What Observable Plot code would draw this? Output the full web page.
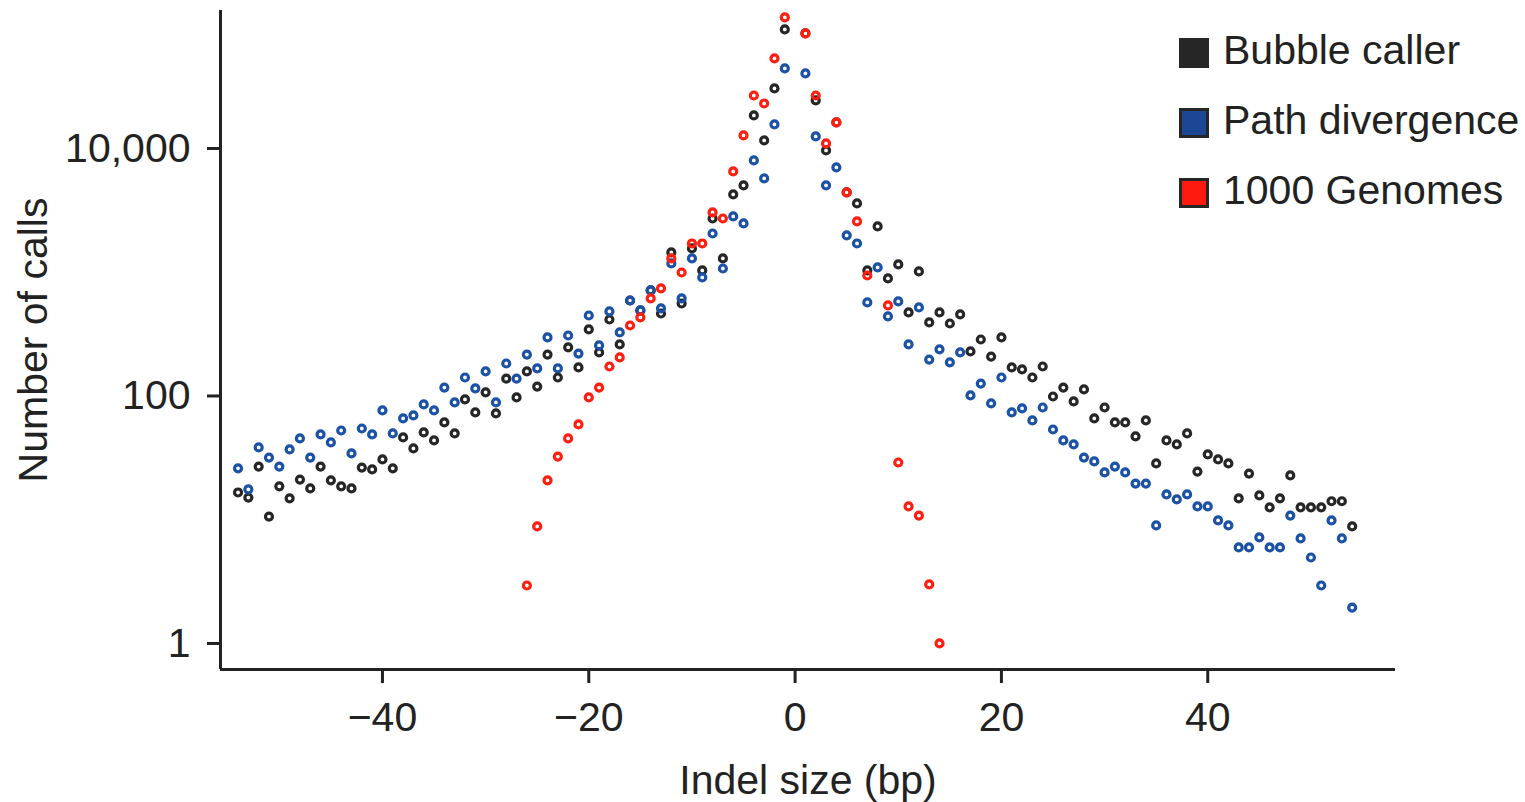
<!DOCTYPE html>
<html>
<head>
<meta charset="utf-8">
<script src="https://cdn.jsdelivr.net/npm/d3@7"></script>
<script src="https://cdn.jsdelivr.net/npm/@observablehq/plot@0.6"></script>
<style>
  body { margin: 0; background: #fff; }
  #wrap { position: relative; width: 1525px; height: 802px; overflow: hidden; }
  .lg-row { position: absolute; left: 1179px; height: 40px; font: 41px "Liberation Sans", Arial, sans-serif; color: #222; white-space: nowrap; }
  .lg-sw { position: absolute; left: 0; top: 8px; width: 30px; height: 30px; box-sizing: border-box; border: 3px solid #262626; }
  .lg-tx { position: absolute; left: 44px; top: 0; line-height: 40px; }
</style>
</head>
<body>
<div id="wrap"></div>
<script>
// ---- data ----
const sizes = [-54,-53,-52,-51,-50,-49,-48,-47,-46,-45,-44,-43,-42,-41,-40,-39,-38,-37,-36,-35,
  -34,-33,-32,-31,-30,-29,-28,-27,-26,-25,-24,-23,-22,-21,-20,-19,-18,-17,-16,-15,
  -14,-13,-12,-11,-10,-9,-8,-7,-6,-5,-4,-3,-2,-1,
  1,2,3,4,5,6,7,8,9,10,11,12,13,14,15,16,17,18,19,20,21,22,23,24,25,26,27,28,29,30,
  31,32,33,34,35,36,37,38,39,40,41,42,43,44,45,46,47,48,49,50,51,52,53,54];

const bubbleCalls = [16.6,15.1,26.9,10.6,18.6,14.9,21.1,17.9,26.9,20.8,18.6,17.9,26.4,25.5,30.7,26.0,46.2,37.7,50.7,43.7,
  61.1,49.8,93.7,73.6,107,72.2,138,97.3,158,119,216,141,247,170,345,225,415,261,591,491,
  712,464,1445,559,1556,1033,2718,1292,4250,5024,18490,11610,30550,91600,
  85000,24430,9640,16230,4413,3595,1033,2344,891,1155,473,1014,393,473,385,456,229,286,208,297,
  170,164,141,173,99,117,90.3,113,65.8,80.7,61.1,61.1,47.1,63.4,28.5,43.7,40.6,49.8,24.5,33.7,
  30.7,28.5,14.9,23.6,15.7,12.6,14.9,22.8,12.6,12.6,12.6,14.1,14.1,8.82];

const pathCalls = [26.0,17.6,38.4,31.8,26.9,37.0,45.4,31.8,48.9,42.1,52.6,34.3,54.6,48.9,76.4,49.8,65.8,69.6,85.4,76.4,
  117,88.7,141,115,158,88.7,183,138,216,167,297,167,308,220,447,256,482,326,591,491,
  712,510,1177,614,1292,907,2056,1072,2823,2477,8000,5724,15640,44340,
  40390,12510,5024,7025,1982,1707,570,1093,439,581,261,519,197,238,187,225,101,126,87,141,
  73.6,79.3,63.4,80.7,53.6,43.7,40.6,31.8,29.6,24.1,26.9,24.1,19.6,19.6,8.99,16.0,14.6,16.0,12.8,12.8,
  9.86,8.99,5.97,5.97,7.19,5.97,5.97,10.8,7.06,4.95,2.94,9.86,7.06,1.95];

const genomesSizes = [-26,-25,-24,-23,-22,-21,-20,-19,-18,-17,-16,-15,-14,-13,-12,-11,-10,-9,-8,-7,-6,-5,-4,-3,-2,-1,
  1,2,3,4,5,6,7,9,10,11,12,13,14];
const genomesCalls = [2.94,8.82,20.8,32.4,45.4,58.9,97.3,117,173,205,371,431,614,739,1292,995,1707,1707,3041,2718,6518,12740,26800,23100,53380,114500,
  85000,26800,10980,16230,4413,2571,941,539,29.0,12.8,10.8,3.0,1.0];

const seriesNames = ["Bubble caller", "Path divergence", "1000 Genomes"];
const seriesColors = ["#262626", "#1b52a6", "#ff1e10"];
const legendFill = ["#262626", "#1c4794", "#ff1a0f"];

const xTicks = [-40, -20, 0, 20, 40];
const yTicks = [1, 100, 10000];
const xDomain = [-55.7, 58.2];
const yDomain = [0.616, 130300];
const xLabel = "Indel size (bp)";
const yLabel = "Number of calls";

// ---- build ----
const bubble = sizes.map((s, i) => ({size: s, calls: bubbleCalls[i]}));
const path = sizes.map((s, i) => ({size: s, calls: pathCalls[i]}));
const genomes = genomesSizes.map((s, i) => ({size: s, calls: genomesCalls[i]}));
const seriesData = [bubble, path, genomes];

const dotStyle = {x: "size", y: "calls", r: 3.5, strokeWidth: 3.2, fill: "none"};

const chart = Plot.plot({
  width: 1525,
  height: 802,
  marginLeft: 220,
  marginRight: 130,
  marginTop: 10,
  marginBottom: 133,
  style: {fontFamily: '"Liberation Sans", Arial, sans-serif', fontSize: "41px", color: "#222", background: "white", overflow: "visible"},
  x: {domain: xDomain},
  y: {type: "log", domain: yDomain},
  marks: [
    Plot.axisX({ticks: xTicks, tickFormat: d3.format("d"), tickSize: 14, tickPadding: 18, strokeWidth: 3, stroke: "#222", label: null}),
    Plot.axisY({ticks: yTicks, tickFormat: d3.format(","), tickSize: 13, tickPadding: 17, strokeWidth: 3, stroke: "#222", label: null}),
    Plot.ruleX([xDomain[0]], {stroke: "#222", strokeWidth: 3}),
    Plot.ruleY([yDomain[0]], {stroke: "#222", strokeWidth: 3}),
    ...seriesData.map((d, i) => Plot.dot(d, {...dotStyle, stroke: seriesColors[i]})),
    Plot.text([xLabel], {text: d => d, frameAnchor: "bottom", dy: 124, lineAnchor: "bottom", textAnchor: "middle", fill: "#222"}),
    Plot.text([yLabel], {text: d => d, frameAnchor: "left", dx: -203, rotate: -90, lineAnchor: "top", textAnchor: "middle", fill: "#222"})
  ]
});

const wrap = document.getElementById("wrap");
wrap.appendChild(chart);

seriesNames.forEach((name, i) => {
  const row = document.createElement("div");
  row.className = "lg-row";
  row.style.top = (30 + i * 70) + "px";
  const sw = document.createElement("span");
  sw.className = "lg-sw";
  sw.style.background = legendFill[i];
  const tx = document.createElement("span");
  tx.className = "lg-tx";
  tx.textContent = name;
  row.appendChild(sw);
  row.appendChild(tx);
  wrap.appendChild(row);
});
</script>
</body>
</html>
